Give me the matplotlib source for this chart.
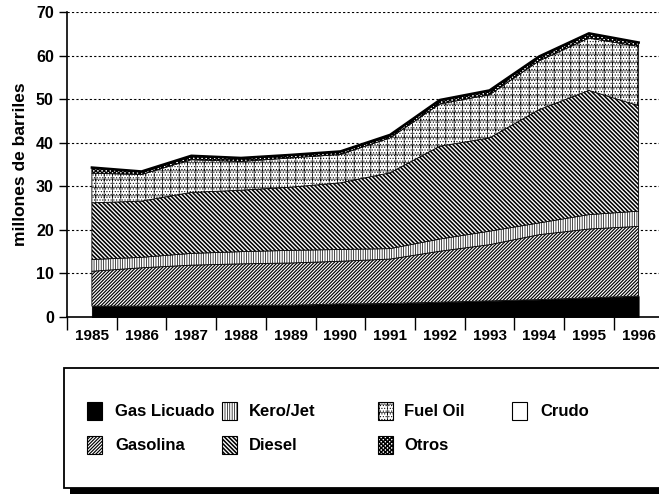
import numpy as np
import matplotlib
matplotlib.use("Agg")
import matplotlib.pyplot as plt
from matplotlib.patches import Rectangle

years = ["1985", "1986", "1987", "1988", "1989", "1990",
         "1991", "1992", "1993", "1994", "1995", "1996"]
gas_licuado = [2.5, 2.5, 2.7, 2.7, 2.7, 3.0, 3.1, 3.4, 3.7, 4.0, 4.4, 4.8]
gasolina = [8.0, 8.8, 9.2, 9.5, 9.7, 9.8, 10.2, 11.7, 12.9, 14.9, 15.8, 16.0]
kero_jet = [2.7, 2.4, 2.7, 2.8, 2.9, 2.7, 2.4, 2.8, 3.1, 2.7, 3.3, 3.5]
diesel = [13.0, 12.9, 14.0, 14.1, 14.5, 15.3, 17.4, 21.3, 21.4, 26.0, 28.5, 24.2]
fuel_oil = [6.8, 6.1, 7.5, 6.6, 6.7, 6.5, 8.0, 9.7, 9.9, 11.2, 12.0, 13.6]
otros = [1.3, 0.7, 0.9, 0.8, 0.7, 0.7, 0.7, 0.9, 1.0, 1.0, 1.1, 0.9]
crudo = [0, 0, 0, 0, 0, 0, 0, 0, 0, 0, 0, 0]

series = [
    ("Gas Licuado", gas_licuado, dict(fc="black", hatch=None, hlw=0.7)),
    ("Gasolina", gasolina, dict(fc="white", hatch="/" * 10, hlw=0.85)),
    ("Kero/Jet", kero_jet, dict(fc="white", hatch="|" * 7, hlw=0.5)),
    ("Diesel", diesel, dict(fc="white", hatch="\\" * 8, hlw=1.15)),
    ("Fuel Oil", fuel_oil, dict(fc="white", hatch="." * 6 + "++", hlw=0.45)),
    ("Otros", otros, dict(fc="white", hatch="x" * 8, hlw=1.0)),
    ("Crudo", crudo, dict(fc="white", hatch=None, hlw=0.7)),
]

plt.rcParams['font.family'] = ['Liberation Sans', 'DejaVu Sans']

fig = plt.figure(figsize=(6.59, 4.95), dpi=100)
ax = fig.add_axes([0.1017, 0.3596, 0.8983, 0.6162])

x = np.arange(len(years))
base = np.zeros(len(years))
for name, vals, st in series:
    top = base + np.array(vals, dtype=float)
    plt.rcParams['hatch.linewidth'] = st["hlw"]
    coll = ax.fill_between(x, base, top, facecolor=st["fc"], edgecolor="black",
                           hatch=st["hatch"], linewidth=0.6, zorder=3)
    if hasattr(coll, "set_hatch_linewidth"):
        coll.set_hatch_linewidth(st["hlw"])
    base = top
ax.plot(x, base, color="black", lw=1.8, zorder=4)

ax.set_xlim(-0.5, 11.41)
ax.set_ylim(0, 70)
ax.set_yticks(np.arange(0, 71, 10))
ax.set_yticklabels([str(v) for v in range(0, 71, 10)], fontsize=11.5, fontweight="bold")
ax.tick_params(axis="y", direction="out", length=5.5, width=1, pad=4)
ax.set_xticks(x)
ax.set_xticklabels(years, fontsize=11, fontweight="bold")
ax.tick_params(axis="x", which="major", length=0, pad=9)
ax.set_xticks(np.arange(-0.5, 11.5, 1.0), minor=True)
ax.tick_params(axis="x", which="minor", direction="out", length=9.5, width=1)

for v in range(10, 71, 10):
    ax.axhline(v, color="black", lw=0.8, ls=(0, (2, 2)), zorder=1)

ax.spines["top"].set_visible(False)
ax.spines["right"].set_visible(False)
ax.spines["left"].set_linewidth(1.2)
ax.spines["bottom"].set_linewidth(1.2)
ax.set_ylabel("millones de barriles", fontsize=12.5, fontweight="bold", labelpad=6)

# legend box with shadow
W, H = 659.0, 495.0
shadow = Rectangle((70 / W, 1 - 494 / H), 1.0, (494 - 488) / H, transform=fig.transFigure,
                   facecolor="black", edgecolor="none", zorder=1)
fig.add_artist(shadow)
box = Rectangle((64 / W, 1 - 488 / H), 1.0, (488 - 368) / H, transform=fig.transFigure,
                facecolor="white", edgecolor="black", lw=1.3, zorder=2)
fig.add_artist(box)

cols = [(87, 115), (222, 249), (378, 404), (512, 540)]
rows = [411, 445]
order = [(0, 0, 0), (1, 1, 0), (2, 0, 1), (3, 1, 1), (4, 0, 2), (5, 1, 2), (6, 0, 3)]
for idx, r, c in order:
    name, vals, st = series[idx]
    sx, tx = cols[c]
    cy = rows[r]
    plt.rcParams['hatch.linewidth'] = st["hlw"]
    p = Rectangle((sx / W, 1 - (cy + 9) / H), 15 / W, 18 / H, transform=fig.transFigure,
                  facecolor=st["fc"], edgecolor="black", hatch=st["hatch"], lw=0.8, zorder=3)
    fig.add_artist(p)
    if hasattr(p, "set_hatch_linewidth"):
        p.set_hatch_linewidth(st["hlw"])
    fig.text(tx / W, 1 - cy / H, name, fontsize=12, fontweight="bold",
             va="center", ha="left", zorder=3)

fig.savefig("out.png", dpi=100)
